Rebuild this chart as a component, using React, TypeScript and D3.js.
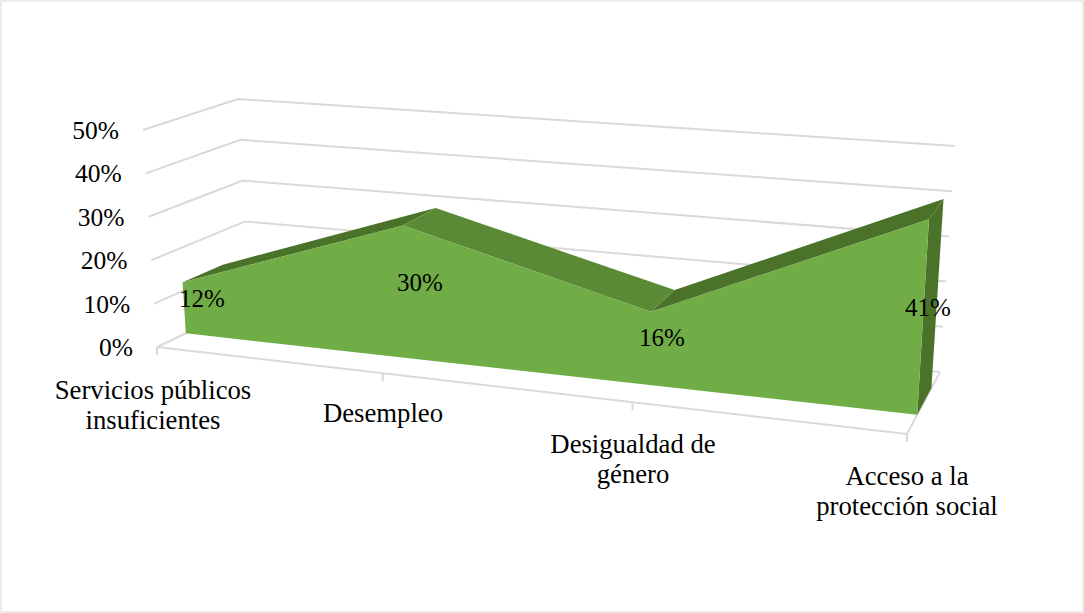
import React from "react";
import * as d3 from "d3";

const categories = [
  ["Servicios públicos", "insuficientes"],
  ["Desempleo"],
  ["Desigualdad de", "género"],
  ["Acceso a la", "protección social"],
];
const shares = [12, 30, 16, 41];
const valueTicks = [0, 10, 20, 30, 40, 50];

const WIDTH = 1084;
const HEIGHT = 613;
const GRID = "#d9d9d9";
const FONT = "'Liberation Serif', 'Times New Roman', serif";

// Corners of the 3D plot box as drawn on screen: [category end][depth][value end]
type Pt = [number, number];
const box: Pt[][][] = [
  [
    [[157, 347], [143, 130]],
    [[250, 303], [238, 99]],
  ],
  [
    [[907, 434], [921, 190]],
    [[940, 372], [955, 146]],
  ],
];

// Foreshortened category spacing along the floor
const catFraction = d3.scaleLinear().domain([0, 1, 2, 3]).range([0, 0.301, 0.634, 1]);
const valFraction = d3.scaleLinear().domain([0, 50]).range([0, 1]);

const mix = (a: Pt, b: Pt, t: number): Pt => [a[0] + (b[0] - a[0]) * t, a[1] + (b[1] - a[1]) * t];

// Projects category position, depth (0 front, 1 back) and percentage to the page
function project(cat: number, depth: number, value: number): Pt {
  const u = catFraction(cat);
  const v = valFraction(value);
  const atSide = (s: number) =>
    mix(mix(box[s][0][0], box[s][0][1], v), mix(box[s][1][0], box[s][1][1], v), depth);
  return mix(atSide(0), atSide(1), u);
}

const FRONT = 0.31;
const BACK = 0.74;
const path = d3.line<Pt>().x((d) => d[0]).y((d) => d[1]);
const poly = (pts: Pt[]) => path(pts) + "Z";

const lastCat = categories.length - 1;
const frontFace: Pt[] = [
  project(0, FRONT, 0),
  ...shares.map((s, i) => project(i, FRONT, s)),
  project(lastCat, FRONT, 0),
];

// Tick label centres and baselines for the category axis
const catLabelX = [153, 383, 633, 907];
const catLabelY = [399, 422, 453, 485];
const LINE_GAP = 30;
// Data label centres
const dataLabelPos: Pt[] = [[202, 307], [420, 291], [662, 346], [928, 316]];

export default function App() {
  return (
    <svg
      width={WIDTH}
      height={HEIGHT}
      style={{ position: "absolute", left: 0, top: 0, background: "#fff", fontFamily: FONT }}
    >
      <rect x={1} y={1} width={WIDTH - 2} height={HEIGHT - 2} fill="#fff" stroke={GRID} strokeWidth={1} />

      {/* Walls */}
      <g fill="none" stroke={GRID} strokeWidth={2}>
        {valueTicks.map((v) => (
          <path key={v} d={path([project(0, 0, v), project(0, 1, v), project(lastCat, 1, v)]) ?? ""} />
        ))}
        <path d={path([project(0, 0, 0), project(lastCat, 0, 0), project(lastCat, 1, 0)]) ?? ""} />
        {categories.map((_, i) => {
          const [x, y] = project(i, 0, 0);
          return <line key={i} x1={x} y1={y} x2={x} y2={y + 8} />;
        })}
      </g>

      {/* Area solid: top bands, end cap, then the front face */}
      {shares.slice(1).map((s, i) => (
        <path
          key={i}
          fill={s > shares[i] ? "#4a7229" : "#5a8a36"}
          d={poly([
            project(i, FRONT, shares[i]),
            project(i, BACK, shares[i]),
            project(i + 1, BACK, s),
            project(i + 1, FRONT, s),
          ])}
        />
      ))}
      <path
        fill="#4a7229"
        d={poly([
          project(lastCat, FRONT, shares[lastCat]),
          project(lastCat, BACK, shares[lastCat]),
          project(lastCat, BACK, 0),
          project(lastCat, FRONT, 0),
        ])}
      />
      <path fill="#70ad47" d={poly(frontFace)} />

      {/* Value axis labels */}
      <g fontSize={25.5} fill="#000" textAnchor="end">
        {valueTicks.map((v) => {
          const [x, y] = project(0, 0, v);
          return (
            <text key={v} x={x - 24} y={y + 9}>
              {v}%
            </text>
          );
        })}
      </g>

      {/* Category labels */}
      <g fontSize={26.7} fill="#000" textAnchor="middle">
        {categories.map((lines, i) =>
          lines.map((line, j) => (
            <text key={line} x={catLabelX[i]} y={catLabelY[i] + j * LINE_GAP}>
              {line}
            </text>
          ))
        )}
      </g>

      {/* Data labels */}
      <g fontSize={25} fill="#000" textAnchor="middle">
        {shares.map((s, i) => (
          <text key={i} x={dataLabelPos[i][0]} y={dataLabelPos[i][1]}>
            {s}%
          </text>
        ))}
      </g>
    </svg>
  );
}
